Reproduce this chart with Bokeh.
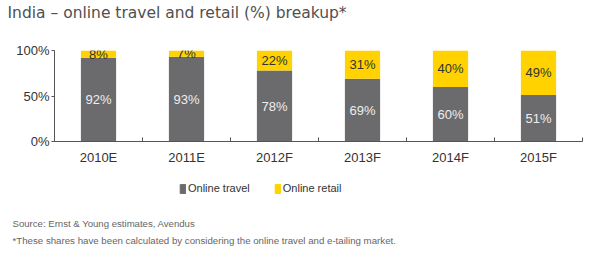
from bokeh.plotting import figure
from bokeh.layouts import column
from bokeh.models import (ColumnDataSource, Range1d, FixedTicker, Label, Legend, LegendItem)
from bokeh.core.properties import value
from bokeh.embed import file_html
from bokeh.resources import INLINE

years = ["2010E", "2011E", "2012F", "2013F", "2014F", "2015F"]
travel = [92, 93, 78, 69, 60, 51]
retail = [8, 7, 22, 31, 40, 49]
series_names = ["Online travel", "Online retail"]
y_ticks = [0, 0.5, 1]
y_tick_labels = ["0%", "50%", "100%"]
title_text = "India \u2013 online travel and retail (%) breakup*"
source_text = "Source: Ernst & Young estimates, Avendus"
note_text = "*These shares have been calculated by considering the online travel and e-tailing market."

GREY = "#6b6b6d"
YELLOW = "#ffd200"
FONT = "Liberation Sans"
W = 590


def text_strip(height):
    f = figure(width=W, height=height, output_backend="svg", toolbar_location=None,
               x_range=Range1d(0, W), y_range=Range1d(0, height),
               x_axis_type=None, y_axis_type=None, min_border=0)
    f.frame_align = False
    f.outline_line_color = None
    f.xgrid.visible = False
    f.ygrid.visible = False
    return f


# ---- title strip ----
TH = 30
pt = text_strip(TH)
pt.add_layout(Label(x=7, y=TH - 12, text=title_text, text_font="DejaVu Sans",
                    text_font_size="15.5px", text_color="#505050",
                    text_baseline="middle", text_align="left"))

# ---- chart ----
xs = [i + 0.5 for i in range(len(years))]
src = ColumnDataSource(dict(
    x=xs,
    travel=[t / 100 for t in travel],
    retail=[r / 100 for r in retail],
    travel_mid=[t / 200 for t in travel],
    retail_mid=[(t + r / 2) / 100 for t, r in zip(travel, retail)],
    travel_lbl=[f"{t}%" for t in travel],
    retail_lbl=[f"{r}%" for r in retail],
))

p = figure(width=W, height=142, output_backend="svg", toolbar_location=None,
           x_range=Range1d(0, len(years)), y_range=Range1d(0, 1),
           min_border_left=54, min_border_right=8, min_border_top=20, min_border_bottom=31)
p.frame_align = False
p.outline_line_color = None
p.xgrid.visible = False
p.ygrid.visible = False

r = p.vbar_stack(["travel", "retail"], x="x", width=0.4, source=src,
                 color=[GREY, YELLOW], line_color=None)

p.text(x="x", y="travel_mid", text="travel_lbl", source=src, text_align="center",
       text_baseline="middle", text_color="#eeeeee", text_font=value(FONT), text_font_size="13px")
p.text(x="x", y="retail_mid", text="retail_lbl", source=src, text_align="center",
       text_baseline="middle", text_color="#333333", text_font=value(FONT), text_font_size="13px")

p.xaxis.ticker = FixedTicker(ticks=xs, minor_ticks=list(range(len(years) + 1)))
p.xaxis.major_label_overrides = {x: y for x, y in zip(xs, years)}
p.xaxis.major_tick_out = 0
p.xaxis.major_tick_in = 0
p.xaxis.minor_tick_in = 4
p.xaxis.minor_tick_out = 0
p.xaxis.minor_tick_line_color = "#555555"
p.xaxis.axis_line_color = "#555555"
p.xaxis.major_label_text_font = FONT
p.xaxis.major_label_text_font_size = "13px"
p.xaxis.major_label_text_color = "#333333"
p.xaxis.major_label_standoff = 8

p.yaxis.ticker = FixedTicker(ticks=y_ticks, minor_ticks=[])
p.yaxis.major_label_overrides = {t: l for t, l in zip(y_ticks, y_tick_labels)}
p.yaxis.major_tick_out = 3
p.yaxis.major_tick_in = 0
p.yaxis.major_tick_line_color = "#555555"
p.yaxis.axis_line_color = "#555555"
p.yaxis.major_label_text_font = FONT
p.yaxis.major_label_text_font_size = "13px"
p.yaxis.major_label_text_color = "#333333"
p.yaxis.major_label_standoff = 2

# ---- legend + notes strip ----
BH = 259 - TH - 142
pb = text_strip(BH)
# legend proxies: one swatch each, placed outside the visible range
proxy = ColumnDataSource(dict(x=[-W], top=[-BH]))
lr0 = pb.vbar(x="x", top="top", width=1, source=proxy, color=GREY)
lr1 = pb.vbar(x="x", top="top", width=1, source=proxy, color=YELLOW)
legend = Legend(items=[LegendItem(label=series_names[0], renderers=[lr0]),
                       LegendItem(label=series_names[1], renderers=[lr1])],
                orientation="horizontal", location=(179, BH - 16 - 6),
                glyph_width=7, glyph_height=11, label_standoff=2, spacing=24,
                padding=0, margin=0, border_line_alpha=0, background_fill_alpha=0,
                label_text_font=FONT, label_text_font_size="11px", label_text_color="#333333",
                label_height=11)
pb.add_layout(legend, "center")
pb.add_layout(Label(x=12, y=BH - 51, text=source_text, text_font=FONT, text_font_size="9.6px",
                    text_color="#666666", text_baseline="middle", text_align="left"))
pb.add_layout(Label(x=12, y=BH - 68, text=note_text, text_font=FONT, text_font_size="9.7px",
                    text_color="#666666", text_baseline="middle", text_align="left"))

layout = column(pt, p, pb, spacing=0)
open("out.html", "w").write(file_html(layout, INLINE))
